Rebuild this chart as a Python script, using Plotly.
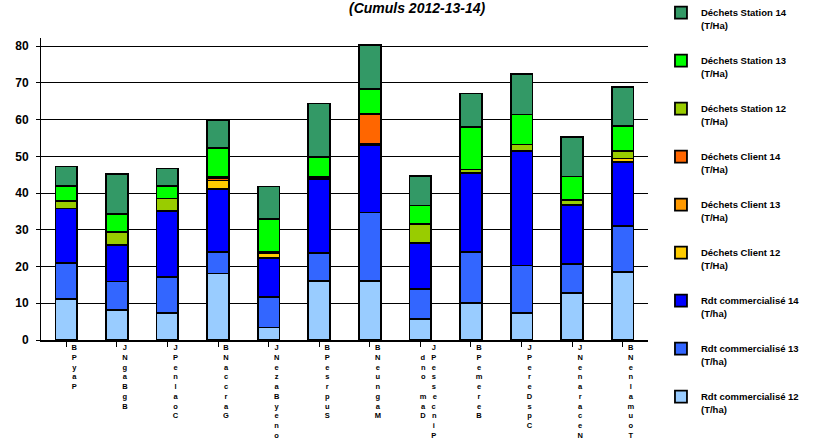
import plotly.graph_objects as go

# Tick labels as they appear (stacked characters, top to bottom); "|" = two columns
categories = ["BPyaP", "JNgaBgB", "JPenlaoC", "BNaccraG", "JNezaByenoH", "BPesrpuS",
              "BNeungaM", "dno maD|JPessecniP", "BPemereB", "JPereDspC", "JNenaraceN", "BNenlamuoT"]

rdt12 = [11.1, 8.2, 7.3, 18.1, 3.4, 16.1, 16.1, 5.8, 10.0, 7.3, 12.7, 18.6]
rdt13 = [9.8, 7.7, 9.9, 5.9, 8.4, 7.5, 18.6, 8.0, 14.0, 13.0, 7.9, 12.4]
rdt14 = [14.9, 10.0, 17.9, 17.0, 10.6, 20.2, 18.4, 12.5, 21.5, 31.2, 16.0, 17.4]
client12 = [0, 0, 0, 2.4, 1.2, 0, 0, 0, 0, 0, 0, 1.0]
client13 = [0, 0, 0, 0, 0, 0, 0.4, 0, 0, 0, 0.3, 0]
client14 = [0, 0, 0, 0.6, 0, 0, 8.0, 0, 0, 0, 0, 0]
station12 = [2.0, 3.6, 3.4, 0.4, 0.5, 0.6, 0, 5.3, 0.9, 1.7, 1.3, 2.1]
station13 = [4.2, 4.7, 3.4, 7.8, 8.8, 5.5, 6.8, 5.0, 11.6, 8.2, 6.3, 6.7]
station14 = [5.2, 11.0, 4.8, 7.7, 8.9, 14.5, 12.1, 8.1, 9.1, 11.0, 10.7, 10.7]

series = [
    ("Rdt commercialisé 12<br>(T/ha)", rdt12, "#99CCFF"),
    ("Rdt commercialisé 13<br>(T/ha)", rdt13, "#3366FF"),
    ("Rdt commercialisé 14<br>(T/ha)", rdt14, "#0000FF"),
    ("Déchets Client 12<br>(T/Ha)", client12, "#FFCC00"),
    ("Déchets Client 13<br>(T/Ha)", client13, "#FF9900"),
    ("Déchets Client 14<br>(T/Ha)", client14, "#FF6600"),
    ("Déchets Station 12<br>(T/Ha)", station12, "#99CC00"),
    ("Déchets Station 13<br>(T/Ha)", station13, "#00FF00"),
    ("Déchets Station 14<br>(T/Ha)", station14, "#339966"),
]

def stack_label(s):
    if "|" not in s:
        return "<br>".join(s)
    c1, c2 = s.split("|")
    c1 = " " + c1  # first column starts one line lower
    n = max(len(c1), len(c2))
    lines = []
    for i in range(n):
        a = c1[i] if i < len(c1) else " "
        b = c2[i] if i < len(c2) else " "
        a = a if a.strip() else '<span style="color:rgba(0,0,0,0)">d</span>'
        b = b if b.strip() else '<span style="color:rgba(0,0,0,0)">P</span>'
        lines.append(a + "&nbsp;&nbsp;&nbsp;" + b)
    return "<br>".join(lines)

x = list(range(len(categories)))
ticktext = [stack_label(c) for c in categories]

fig = go.Figure()
n = len(series)
for i, (name, vals, color) in enumerate(series):
    fig.add_trace(go.Bar(
        x=x, y=[v if v else None for v in vals], name=name,
        marker=dict(color=color, line=dict(color="black", width=1.8)),
        legendgroup=f"g{i}", legendrank=100 + (n - i),
    ))

fig.update_layout(
    width=813, height=443,
    barmode="stack", bargap=0.57,
    paper_bgcolor="white", plot_bgcolor="white",
    margin=dict(l=41, r=165, t=38, b=103, autoexpand=False),
    font=dict(family="Liberation Sans", color="black"),
    title=dict(text="<b><i>(Cumuls 2012-13-14)</i></b>", x=0.513, xanchor="center",
               y=0.993, yanchor="top", yref="container",
               font=dict(size=14, family="Liberation Sans", color="black")),
    legend=dict(xref="container", yref="container", x=0.813, y=1.01, xanchor="left", yanchor="top",
                traceorder="grouped", tracegroupgap=20.3, valign="top", maxheight=443,
                font=dict(size=9.5, family="Liberation Sans", weight="bold", color="black"),
                bgcolor="rgba(0,0,0,0)", itemwidth=30),
    xaxis=dict(tickmode="array", tickvals=x, ticktext=ticktext, range=[-0.5, len(x) - 0.5],
               showline=True, linecolor="black", linewidth=2, ticks="outside", ticklen=5,
               tickcolor="black", showgrid=False, tickangle=0, ticklabelshift=8,
               ticklabelstandoff=-6, automargin=False,
               tickfont=dict(size=7.5, family="Liberation Sans", weight="bold", color="black")),
    yaxis=dict(range=[0, 82.2], tickvals=[0, 10, 20, 30, 40, 50, 60, 70, 80], automargin=False,
               showline=True, linecolor="black", linewidth=1, ticks="outside", ticklen=4,
               ticklabelstandoff=5,
               tickcolor="black", showgrid=True, gridcolor="black", gridwidth=1, zeroline=False,
               tickfont=dict(size=12, family="Liberation Sans", weight="bold", color="black")),
)

fig.write_html("out.html", config={"displayModeBar": False},
               post_script="document.body.style.margin='0px';")
